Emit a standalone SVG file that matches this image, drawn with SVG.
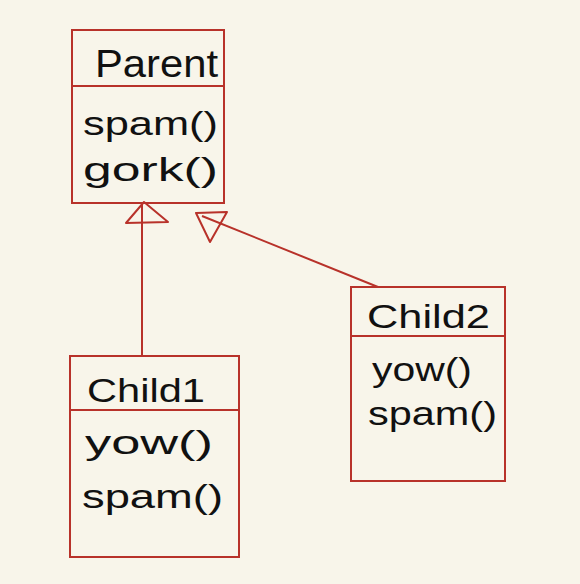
<svg xmlns="http://www.w3.org/2000/svg" width="580" height="584" viewBox="0 0 580 584">
<style>
.box{fill:none;stroke:#b8322a;stroke-width:2}
.ln{fill:none;stroke:#b8322a;stroke-width:2;stroke-linejoin:round}
.t{font-family:"Liberation Sans","DejaVu Sans",sans-serif;fill:#111;font-size:33px}
.h{font-size:38px}
</style>
<rect width="580" height="584" fill="#f8f5ea"/>
<g id="connectors">
<line class="ln" x1="142" y1="356" x2="142" y2="204"/>
<polygon class="ln" points="144,202 126,223 168,222"/>
<line class="ln" x1="378" y1="287" x2="202" y2="216"/>
<polygon class="ln" points="196,213 227,212 210,242"/>
</g>
<g id="parent">
<rect class="box" x="72" y="30" width="152" height="173"/>
<line class="ln" x1="72" y1="86" x2="224" y2="86"/>
<text class="t h" x="95" y="77" textLength="123" lengthAdjust="spacingAndGlyphs">Parent</text>
<text class="t" x="83" y="135" textLength="135" lengthAdjust="spacingAndGlyphs">spam()</text>
<text class="t" x="83" y="181" textLength="135" lengthAdjust="spacingAndGlyphs">gork()</text>
</g>
<g id="child1">
<rect class="box" x="70" y="356" width="169" height="201"/>
<line class="ln" x1="70" y1="410" x2="239" y2="410"/>
<text class="t" x="87" y="402" textLength="118" lengthAdjust="spacingAndGlyphs">Child1</text>
<text class="t" x="85" y="454" textLength="128" lengthAdjust="spacingAndGlyphs">yow()</text>
<text class="t" x="82" y="508" textLength="141" lengthAdjust="spacingAndGlyphs">spam()</text>
</g>
<g id="child2">
<rect class="box" x="351" y="287" width="154" height="194"/>
<line class="ln" x1="351" y1="336" x2="505" y2="336"/>
<text class="t" x="367" y="328" textLength="123" lengthAdjust="spacingAndGlyphs">Child2</text>
<text class="t" x="372" y="381" textLength="100" lengthAdjust="spacingAndGlyphs">yow()</text>
<text class="t" x="368" y="425" textLength="129" lengthAdjust="spacingAndGlyphs">spam()</text>
</g>
</svg>
